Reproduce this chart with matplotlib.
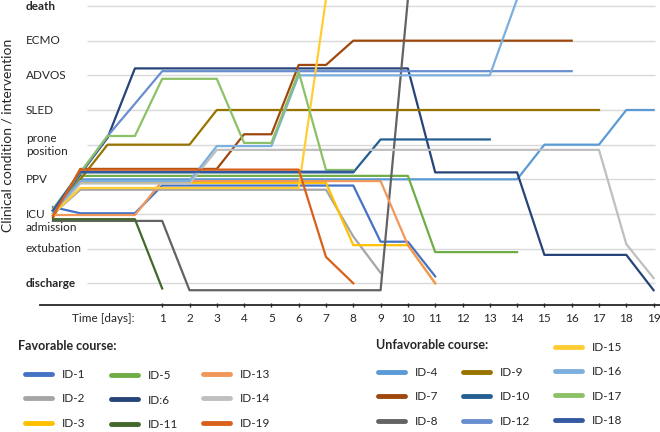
import numpy as np
import matplotlib
matplotlib.use('Agg')
import matplotlib.pyplot as plt
from matplotlib.lines import Line2D
from matplotlib.transforms import blended_transform_factory

plt.rcParams['font.family'] = ['Lato', 'DejaVu Sans']

# y levels (0 = discharge ... 8 = death)
levels = ['discharge', 'extubation', 'ICU\nadmission', 'PPV', 'prone\nposition',
          'SLED', 'ADVOS', 'ECMO', 'death']
# steps 0..3 are the admission steps, steps 4..22 are days 1..19
day_labels = [str(d) for d in range(1, 20)]

# favorable course
id1 = [2.2, 2.02, 2.02, 2.02, 2.82, 2.82, 2.82, 2.82, 2.82, 2.82, 2.82, 2.82, 1.2, 1.2, 0.2]
id2 = [2.0, 2.7, 2.7, 2.7, 2.7, 2.7, 2.7, 2.7, 2.7, 2.7, 2.7, 1.35, 0.3]
id3 = [2.0, 2.9, 2.9, 2.9, 2.9, 2.9, 2.9, 2.9, 2.9, 2.9, 2.9, 1.1, 1.1, 1.1, 0.0]
id5 = [2.1, 3.1, 3.1, 3.1, 3.1, 3.1, 3.1, 3.1, 3.1, 3.1, 3.1, 3.1, 3.1, 3.1, 0.9, 0.9, 0.9, 0.9]
id6 = [2.1, 3.15, 4.2, 6.2, 6.2, 6.2, 6.2, 6.2, 6.2, 6.2, 6.2, 6.2, 6.2, 6.2,
       3.2, 3.2, 3.2, 3.2, 0.82, 0.82, 0.82, 0.82, -0.2]
id11 = [1.85, 1.85, 1.85, 1.85, -0.15]
id13 = [1.97, 1.97, 1.97, 1.97, 2.95, 2.95, 2.95, 2.95, 2.95, 2.95, 2.95, 2.95, 2.95, 1.1, 0.0]
id14 = [2.0, 2.88, 2.88, 2.88, 2.88, 2.88, 3.85, 3.85, 3.85, 3.85, 3.85, 3.85, 3.85, 3.85,
        3.85, 3.85, 3.85, 3.85, 3.85, 3.85, 3.85, 1.13, 0.15]
id19 = [1.95, 3.28, 3.28, 3.28, 3.28, 3.28, 3.28, 3.28, 3.28, 3.28, 0.76, 0.0]

# unfavorable course
id4 = [2.1, 3.0, 3.0, 3.0, 3.0, 3.0, 3.0, 3.0, 3.0, 3.0, 3.0, 3.0, 3.0, 3.0, 3.0, 3.0, 3.0, 3.0,
       4.0, 4.0, 4.0, 5.0, 5.0]
id7 = [1.9, 3.3, 3.3, 3.3, 3.3, 3.3, 3.3, 4.3, 4.3, 6.3, 6.3, 7.0, 7.0, 7.0, 7.0, 7.0, 7.0, 7.0, 7.0, 7.0]
id8 = [1.8, 1.8, 1.8, 1.8, 1.8, -0.2, -0.2, -0.2, -0.2, -0.2, -0.2, -0.2, -0.2, 8.2]
id9 = [1.95, 3.0, 4.0, 4.0, 4.0, 4.0, 5.0, 5.0, 5.0, 5.0, 5.0, 5.0, 5.0, 5.0, 5.0, 5.0, 5.0, 5.0,
       5.0, 5.0, 5.0]
id10 = [2.1, 3.2, 3.2, 3.2, 3.2, 3.2, 3.2, 3.2, 3.2, 3.2, 3.2, 3.2, 4.15, 4.15, 4.15, 4.15, 4.15]
id12 = [2.1, 3.18, 4.25, 5.18, 6.12, 6.12, 6.12, 6.12, 6.12, 6.12, 6.12, 6.12, 6.12, 6.12, 6.12,
        6.12, 6.12, 6.12, 6.12, 6.12]
id15 = [2.0, 2.75, 2.75, 2.75, 2.75, 2.75, 2.75, 2.75, 2.75, 2.75, 8.2]
id16 = [2.05, 2.95, 2.95, 2.95, 2.95, 2.95, 3.96, 3.96, 3.96, 6.0, 6.0, 6.0, 6.0, 6.0, 6.0, 6.0, 6.0, 8.2]
id17 = [2.15, 3.2, 4.25, 4.25, 5.9, 5.9, 5.9, 4.05, 4.05, 6.1, 3.27, 3.27]
id18 = [2.1, 3.22, 3.22, 3.22, 3.22, 3.22, 3.22, 3.22, 3.22, 3.22, 3.22, 3.22]

series = [
    ('ID-1', id1, '#4472C4'), ('ID-2', id2, '#A5A5A5'), ('ID-3', id3, '#FFC000'),
    ('ID-4', id4, '#5B9BD5'), ('ID-5', id5, '#70AD47'), ('ID:6', id6, '#264478'),
    ('ID-7', id7, '#9E480E'), ('ID-8', id8, '#636363'), ('ID-9', id9, '#997300'),
    ('ID-10', id10, '#255E91'), ('ID-11', id11, '#43682B'), ('ID-12', id12, '#698ED0'),
    ('ID-13', id13, '#F1975A'), ('ID-14', id14, '#BFBFBF'), ('ID-15', id15, '#FFCD33'),
    ('ID-16', id16, '#7CAFDD'), ('ID-17', id17, '#8CC168'), ('ID-18', id18, '#335AA1'),
    ('ID-19', id19, '#D9601A'),
]
colors = {name: c for name, _, c in series}

W, H = 660, 432
fig = plt.figure(figsize=(6.6, 4.32), dpi=100)
# axes: full width, from top of image down to the x axis line at y=305 px
ax = fig.add_axes([0, (H - 305) / H, 1, 305 / H])
x0, dx = 53, 27.3
y0, dy = 283.3, 34.66
ax.set_xlim(-x0 / dx, (W - x0) / dx)
ax.set_ylim((y0 - 305) / dy, y0 / dy)

ax.hlines(range(len(levels)), 1.25, 22.05, color='#d9d9d9', lw=1, zorder=0)

for name, vals, c in series:
    ax.plot(np.arange(len(vals)), vals, color=c, lw=1.6)

for s in ['top', 'right', 'left']:
    ax.spines[s].set_visible(False)
ax.spines['bottom'].set_bounds(-0.48, 22.3)
ax.spines['bottom'].set_linewidth(1.3)
ax.spines['bottom'].set_color('#262626')
ax.set_yticks([])
ax.set_xticks(range(4, 23))
ax.set_xticklabels(day_labels)
ax.tick_params(axis='x', direction='inout', length=3, width=1, color='#262626',
               labelsize=8.5, labelcolor='#262626', pad=4)

def fx(px):
    return px / W

def fy(py):
    return 1 - py / H

tr = blended_transform_factory(fig.transFigure, ax.transData)
label_shift = [0, 0, -0.2, 0, 0, 0, 0, 0, 0]
for lv, (lab, sh) in enumerate(zip(levels, label_shift)):
    bold = lab in ('death', 'discharge')
    ax.text(fx(26), lv + sh, lab, transform=tr, ha='left', va='center', fontsize=8.5,
            fontweight='bold' if bold else 'normal', color='#262626', linespacing=1.25)

fig.text(fx(8), fy(135), 'Clinical condition / intervention', rotation=90,
         ha='center', va='center', fontsize=10, color='#262626')
fig.text(fx(135), fy(318), 'Time [days]:', ha='right', va='center', fontsize=8.5, color='#262626')

fig.text(fx(18), fy(346), 'Favorable course:', ha='left', va='center', fontsize=9,
         fontweight='bold', color='#262626')
fig.text(fx(376), fy(345), 'Unfavorable course:', ha='left', va='center', fontsize=9,
         fontweight='bold', color='#262626')

legend_cols = [
    (['ID-1', 'ID-2', 'ID-3'], 25, 399),
    (['ID-5', 'ID:6', 'ID-11'], 111, 400),
    (['ID-13', 'ID-14', 'ID-19'], 203, 399),
    (['ID-4', 'ID-7', 'ID-8'], 378, 397),
    (['ID-9', 'ID-10', 'ID-12'], 463, 397),
    (['ID-15', 'ID-16', 'ID-17', 'ID-18'], 555, 384),
]
for names, px, py in legend_cols:
    handles = [Line2D([], [], color=colors[n], lw=3.5, solid_capstyle='round') for n in names]
    leg = fig.legend(handles, names, loc='center left', bbox_to_anchor=(fx(px), fy(py)),
                     frameon=False, borderpad=0, borderaxespad=0, handlelength=2.3,
                     handletextpad=0.8, labelspacing=1.12, fontsize=8.5)
    for t in leg.get_texts():
        t.set_color('#262626')

fig.savefig('out.png', dpi=100)
